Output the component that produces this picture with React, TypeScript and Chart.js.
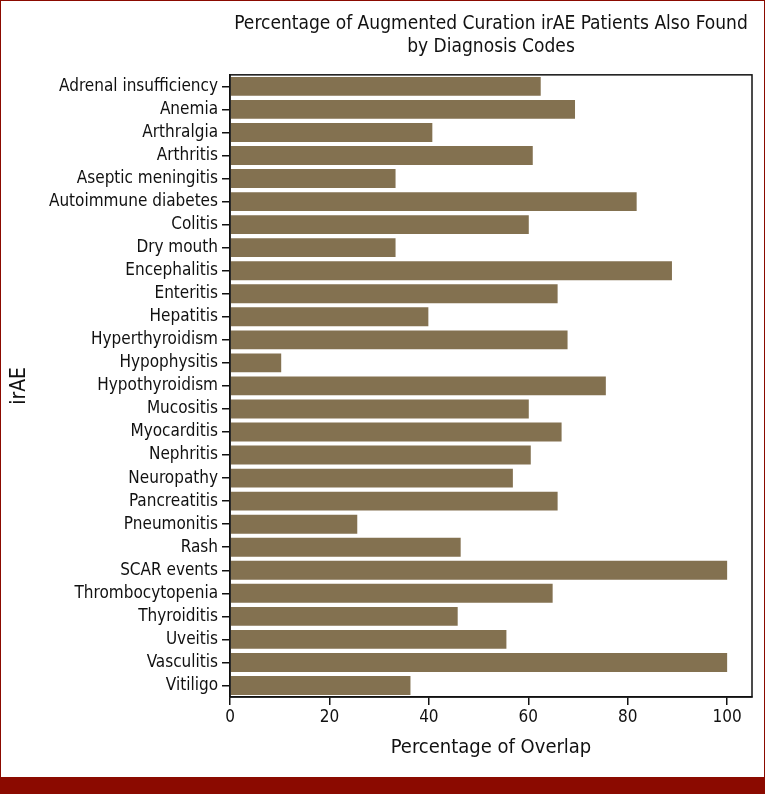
import React, { useEffect, useRef } from "react";
import { Chart, registerables } from "chart.js";

Chart.register(...registerables);

const categories = [
  "Adrenal insufficiency", "Anemia", "Arthralgia", "Arthritis", "Aseptic meningitis",
  "Autoimmune diabetes", "Colitis", "Dry mouth", "Encephalitis", "Enteritis", "Hepatitis",
  "Hyperthyroidism", "Hypophysitis", "Hypothyroidism", "Mucositis", "Myocarditis",
  "Nephritis", "Neuropathy", "Pancreatitis", "Pneumonitis", "Rash", "SCAR events",
  "Thrombocytopenia", "Thyroiditis", "Uveitis", "Vasculitis", "Vitiligo",
];

const overlapValues = [
  62.5, 69.4, 40.7, 60.9, 33.3, 81.8, 60.1, 33.3, 88.9, 65.9, 39.9, 67.9, 10.3, 75.6,
  60.1, 66.7, 60.5, 56.9, 65.9, 25.6, 46.4, 100, 64.9, 45.8, 55.6, 100, 36.3,
];

const xTicks = [0, 20, 40, 60, 80, 100];

const titleLines = [
  "Percentage of Augmented Curation irAE Patients Also Found",
  "by Diagnosis Codes",
];

const FONT = "'Liberation Sans Narrow', 'DejaVu Sans Condensed', 'Arial Narrow', sans-serif";
const RED = "#8b0a00";

const framePlugin = {
  id: "frame",
  afterDraw(chart: any) {
    const { ctx, chartArea } = chart;
    ctx.save();
    ctx.strokeStyle = "#111";
    ctx.lineWidth = 1.5;
    ctx.strokeRect(chartArea.left, chartArea.top, chartArea.right - chartArea.left, chartArea.bottom - chartArea.top);
    ctx.restore();
  },
};

export default function App() {
  const ref = useRef<HTMLCanvasElement | null>(null);

  useEffect(() => {
    if (!ref.current) return;
    const chart = new Chart(ref.current, {
      type: "bar",
      data: {
        labels: categories,
        datasets: [
          {
            data: overlapValues,
            backgroundColor: "#837150",
            borderWidth: 0,
            barPercentage: 0.82,
            categoryPercentage: 1,
          },
        ],
      },
      options: {
        indexAxis: "y",
        responsive: false,
        animation: false,
        maintainAspectRatio: false,
        layout: { padding: { left: 0, right: 13, top: 0, bottom: 0 } },
        plugins: {
          legend: { display: false },
          tooltip: { enabled: false },
          title: {
            display: true,
            text: titleLines,
            fullSize: false,
            color: "#111",
            font: { family: FONT, size: 19, weight: "normal", lineHeight: 1.18 },
            padding: { top: 13, bottom: 17 },
          },
        },
        scales: {
          x: {
            type: "linear",
            min: 0,
            max: 105,
            afterBuildTicks: (scale: any) => {
              scale.ticks = xTicks.map((v) => ({ value: v }));
            },
            afterFit: (scale: any) => {
              scale.height = 80;
            },
            border: { display: true, color: "#111", width: 1.5 },
            grid: { display: true, drawOnChartArea: false, drawTicks: true, tickLength: 8, color: "#111", lineWidth: 1.5 },
            ticks: { color: "#111", font: { family: FONT, size: 17 }, padding: 2 },
            title: {
              display: true,
              text: "Percentage of Overlap",
              color: "#111",
              font: { family: FONT, size: 20, lineHeight: 1.2 },
              padding: 17,
            },
          },
          y: {
            type: "category",
            offset: true,
            afterFit: (scale: any) => {
              scale.width = 230;
            },
            border: { display: true, color: "#111", width: 1.5 },
            grid: { display: true, offset: false, drawOnChartArea: false, drawTicks: true, tickLength: 8, color: "#111", lineWidth: 1.5 },
            ticks: { color: "#111", font: { family: FONT, size: 17 }, padding: 4, autoSkip: false },
            title: {
              display: true,
              text: "irAE",
              color: "#111",
              font: { family: FONT, size: 21, lineHeight: 1.2 },
              padding: 7,
            },
          },
        },
      },
      plugins: [framePlugin],
    });
    return () => chart.destroy();
  }, []);

  return (
    <div style={{ position: "fixed", left: 0, top: 0, width: 765, height: 794, background: "#fff", overflow: "hidden" }}>
      <canvas ref={ref} width={765} height={777} style={{ position: "absolute", left: 0, top: 0, width: 765, height: 777 }} />
      <div style={{ position: "absolute", left: 0, top: 0, width: 765, height: 1, background: RED }} />
      <div style={{ position: "absolute", left: 0, top: 0, width: 1, height: 794, background: RED }} />
      <div style={{ position: "absolute", right: 0, top: 0, width: 1, height: 794, background: RED }} />
      <div style={{ position: "absolute", left: 0, top: 777, width: 765, height: 17, background: RED }} />
    </div>
  );
}
